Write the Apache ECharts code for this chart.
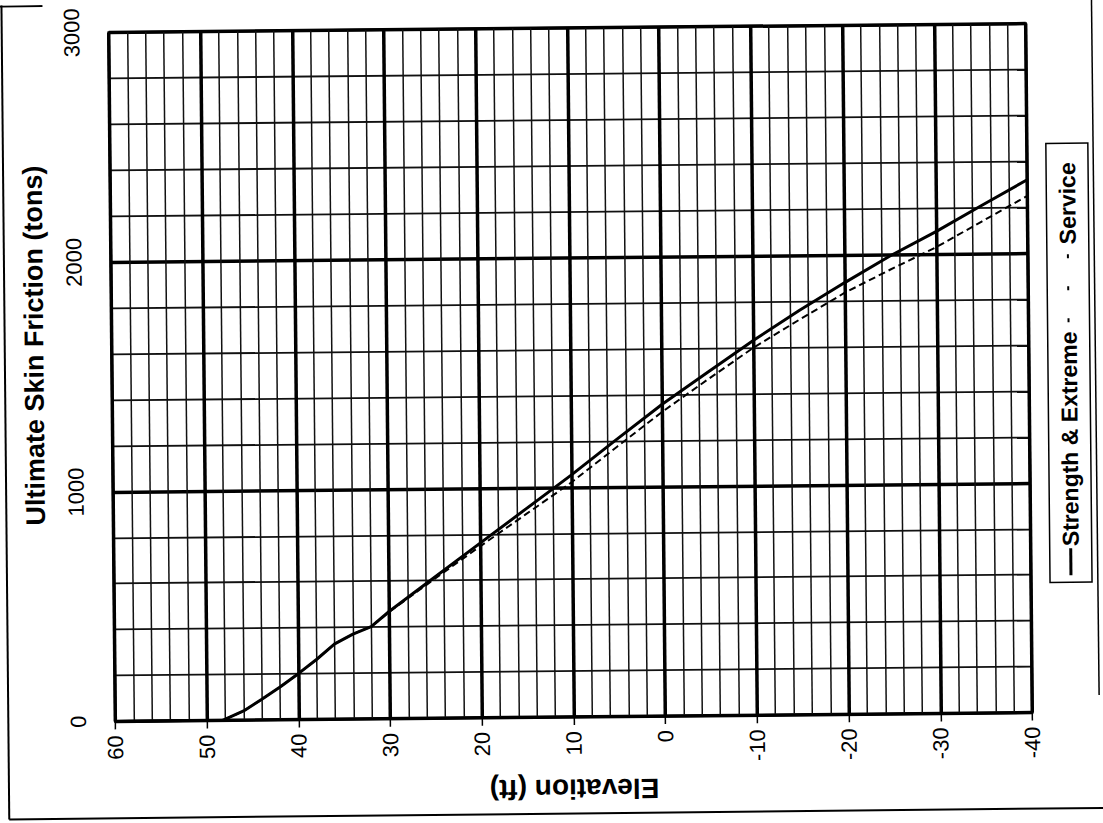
<!DOCTYPE html>
<html>
<head>
<meta charset="utf-8">
<script src="https://cdn.jsdelivr.net/npm/echarts@6/dist/echarts.min.js"></script>
<style>
html,body{margin:0;padding:0;background:#fff;overflow:hidden;}
#chart{width:1103px;height:823px;transform:rotate(-0.55deg);transform-origin:570px 372px;}
</style>
</head>
<body>
<div id="chart"></div>
<script>
// Elevation (ft) sample points
var elevation = [60, 48.3, 46, 44, 42, 40, 38, 36, 34, 32, 30, 25, 20, 15, 10, 5, 0, -5, -10, -15, -20, -25, -30, -35, -40];
// Ultimate skin friction (tons)
var strengthExtreme = [0, 0, 40, 90, 143, 200, 261, 328, 370, 402, 468, 615, 762, 908, 1054, 1208, 1359, 1496, 1633, 1760, 1880, 1995, 2098, 2210, 2320];
var service = [0, 0, 40, 90, 143, 200, 261, 328, 370, 402, 466, 608, 748, 885, 1022, 1175, 1326, 1465, 1601, 1720, 1836, 1935, 2030, 2140, 2250];
var seriesNames = ['Strength & Extreme', 'Service'];
var xTitle = 'Elevation (ft)';
var yTitle = 'Ultimate Skin Friction (tons)';

function pairs(xs, ys) {
  return xs.map(function (x, i) { return [x, ys[i]]; });
}

var FONT = '"Liberation Sans", Arial, sans-serif';
var chart = echarts.init(document.getElementById('chart'), null, {renderer: 'svg'});

chart.setOption({
  animation: false,
  backgroundColor: '#fff',
  grid: {left: 112, right: 74, top: 28, bottom: 106, show: true, borderColor: '#000', borderWidth: 2.5},
  xAxis: {
    type: 'value', min: -40, max: 60, interval: 10, inverse: true,
    name: xTitle, nameLocation: 'middle', nameRotate: 180, nameGap: 58,
    nameTextStyle: {fontFamily: FONT, fontSize: 28, fontWeight: 'bold', color: '#000'},
    axisLine: {show: true, lineStyle: {color: '#000', width: 2}},
    axisTick: {show: true, length: 8, lineStyle: {color: '#000', width: 1.5}},
    axisLabel: {rotate: 90, fontFamily: FONT, fontSize: 22, color: '#000', margin: 14,
      formatter: function (v) { return String(v); }},
    splitLine: {show: true, lineStyle: {color: '#000', width: 3.5}},
    minorTick: {show: false, splitNumber: 5},
    minorSplitLine: {show: true, lineStyle: {color: '#111', width: 1.5}}
  },
  yAxis: {
    type: 'value', min: 0, max: 3000, interval: 1000,
    name: yTitle, nameLocation: 'middle', nameRotate: 90, nameGap: 64,
    nameTextStyle: {fontFamily: FONT, fontSize: 27, fontWeight: 'bold', color: '#000', padding: [0, 0, 0, 64]},
    axisLine: {show: true, lineStyle: {color: '#000', width: 2}},
    axisTick: {show: true, length: 5, lineStyle: {color: '#000', width: 1.5}},
    axisLabel: {rotate: 90, fontFamily: FONT, fontSize: 22, color: '#000', margin: 26,
      formatter: function (v) { return String(v); }},
    splitLine: {show: true, lineStyle: {color: '#000', width: 3.5}},
    minorTick: {show: false, splitNumber: 5},
    minorSplitLine: {show: true, lineStyle: {color: '#111', width: 1.8}}
  },
  series: [
    {
      name: seriesNames[0], type: 'line', data: pairs(elevation, strengthExtreme),
      showSymbol: false, symbol: 'none', smooth: false,
      lineStyle: {color: '#000', width: 3}
    },
    {
      name: seriesNames[1], type: 'line', data: pairs(elevation, service),
      showSymbol: false, symbol: 'none', smooth: false,
      lineStyle: {color: '#000', width: 2, type: [7, 4]}
    }
  ],
  graphic: [
    // scanned page frame
    {type: 'line', shape: {x1: 5, y1: -10, x2: 5, y2: 814}, style: {stroke: '#000', lineWidth: 2}, silent: true},
    {type: 'line', shape: {x1: -10, y1: 1, x2: 46, y2: 1}, style: {stroke: '#000', lineWidth: 2}, silent: true},
    {type: 'line', shape: {x1: 5, y1: 814, x2: 1101, y2: 813}, style: {stroke: '#000', lineWidth: 2}, silent: true},
    {type: 'line', shape: {x1: 1101, y1: 750, x2: 1101, y2: 813}, style: {stroke: '#000', lineWidth: 2}, silent: true},
    {type: 'line', shape: {x1: 1095, y1: -10, x2: 1096, y2: 700}, style: {stroke: '#000', lineWidth: 1.5}, silent: true},
    // rotated legend
    {
      type: 'group', x: 1069, y: 367, rotation: Math.PI / 2, silent: true,
      children: [
        {type: 'rect', shape: {x: -220, y: -21, width: 439, height: 42}, style: {fill: '#fff', stroke: '#000', lineWidth: 1.5}},
        {type: 'line', shape: {x1: -213, y1: 0, x2: -186, y2: 0}, style: {stroke: '#000', lineWidth: 3}},
        {type: 'text', x: -184, y: 0, style: {text: seriesNames[0], fontFamily: FONT, fontSize: 23, fontWeight: 'bold', fill: '#000', align: 'left', verticalAlign: 'middle'}},
        {type: 'line', shape: {x1: 40, y1: 0, x2: 112, y2: 0}, style: {stroke: '#000', lineWidth: 2, lineDash: [4, 28]}},
        {type: 'text', x: 118, y: 0, style: {text: seriesNames[1], fontFamily: FONT, fontSize: 23, fontWeight: 'bold', fill: '#000', align: 'left', verticalAlign: 'middle'}}
      ]
    }
  ]
});
</script>
</body>
</html>
